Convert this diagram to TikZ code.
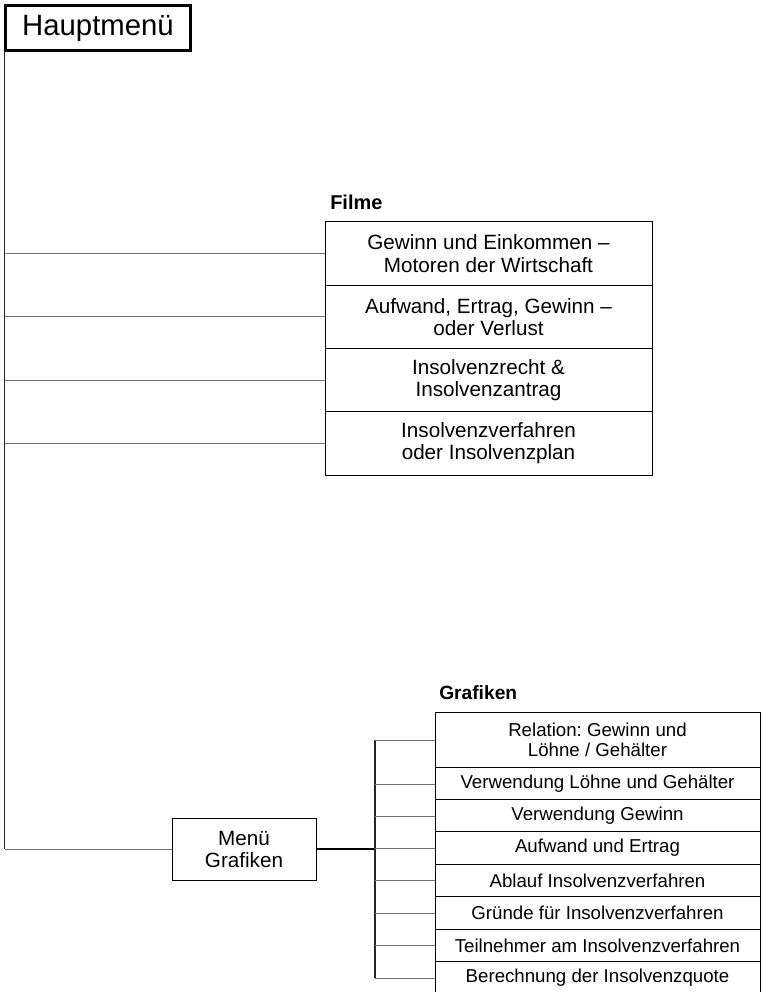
\documentclass[tikz,border=0pt]{standalone}
\usepackage{fontspec}
\setmainfont{Liberation Sans}
\frenchspacing
\begin{document}
\begin{tikzpicture}[
    x=0.75pt,
    y=-0.75pt,
    box/.style={draw=black, line width=0.75pt, fill=white, inner sep=0pt, align=center},
    mainbox/.style={box, line width=2.25pt, minimum width=138.75pt, minimum height=34pt,
        font=\fontsize{22}{26}\selectfont},
    filmbox/.style={box, minimum width=245.25pt, minimum height=47.44pt,
        font=\fontsize{15.5}{16.8}\selectfont},
    menubox/.style={box, minimum width=108pt, minimum height=46.5pt,
        font=\fontsize{15.5}{16.5}\selectfont},
    grafbox/.style={box, minimum width=243.75pt, minimum height=24.2pt,
        font=\fontsize{14}{15}\selectfont},
    heading/.style={inner sep=0pt, anchor=base west},
    spine/.style={draw=black!85, line width=1pt},
    link/.style={draw=black!55, line width=0.75pt},
    feed/.style={draw=black, line width=1.5pt}
]
\useasboundingbox (0,0) rectangle (762,992);

% Top menu and its spine down to the graphics menu.
\node[mainbox] (haupt) at (98,28) {Hauptmenü};
\coordinate (spinetop) at (4.5,52);
\coordinate (spinebot) at (4.5,849);
\draw[spine] (spinetop) -- (spinebot);

% Films: four stacked boxes, each linked from the spine.
\node[heading, font=\fontsize{15}{17}\selectfont\bfseries] (filmhead) at (330,209) {Filme};
\node[filmbox] (film1) at (488.5,253.6) {Gewinn und Einkommen --\\Motoren der Wirtschaft};
\node[filmbox] (film2) at (488.5,316.9) {Aufwand, Ertrag, Gewinn --\\oder Verlust};
\node[filmbox] (film3) at (488.5,380.1) {Insolvenzrecht \&\\Insolvenzantrag};
\node[filmbox] (film4) at (488.5,443.4) {Insolvenzverfahren\\oder Insolvenzplan};
\foreach \i in {1,...,4} {
    \draw[link] (film\i.west -| spinetop) -- (film\i.west);
}

% Graphics submenu.
\node[menubox] (menu) at (244,849) {Menü\\Grafiken};
\draw[link] (spinebot) -- (menu.west);
\coordinate (bustop) at (375,740);
\coordinate (busbot) at (375,978);
\draw[feed] (menu.east) -- (menu.east -| bustop);
\draw[spine] (bustop) -- (busbot);

\node[heading, font=\fontsize{14.4}{17}\selectfont\bfseries] (grafhead) at (439,699) {Grafiken};
\node[grafbox, minimum height=42pt] (graf1) at (597.5,740)
    {Relation: Gewinn und\\Löhne / Gehälter};
\node[grafbox] (graf2) at (597.5,784) {Verwendung Löhne und Gehälter};
\node[grafbox] (graf3) at (597.5,816) {Verwendung Gewinn};
\node[grafbox] (graf4) at (597.5,848) {Aufwand und Ertrag};
\node[grafbox] (graf5) at (597.5,880.5) {Ablauf Insolvenzverfahren};
\node[grafbox] (graf6) at (597.5,913) {Gründe für Insolvenzverfahren};
\node[grafbox] (graf7) at (597.5,945.5) {Teilnehmer am Insolvenzverfahren};
\node[grafbox] (graf8) at (597.5,978) {Berechnung der Insolvenzquote};
\foreach \i in {1,...,8} {
    \draw[link] (graf\i.west -| bustop) -- (graf\i.west);
}
\end{tikzpicture}
\end{document}
